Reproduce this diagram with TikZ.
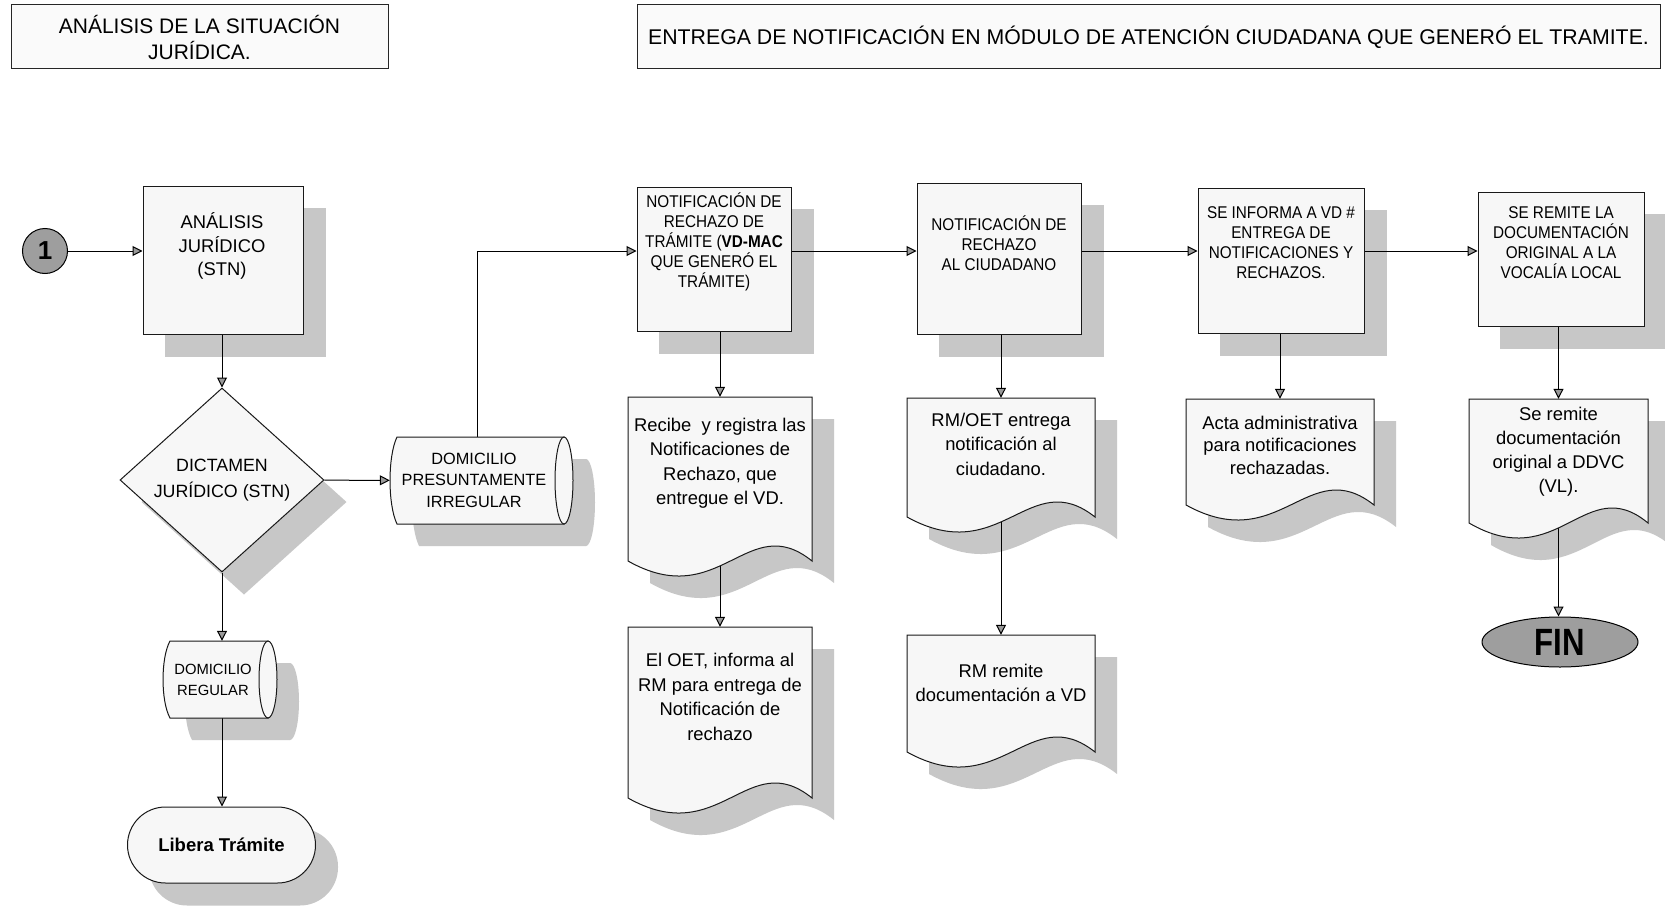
\documentclass[tikz,border=0pt]{standalone}
\usepackage{fontspec}
\setmainfont{Liberation Sans}
\newfontfamily\narrowsans[FakeStretch=0.82]{Liberation Sans}
\newfontfamily\stepsans[FakeStretch=0.9]{Liberation Sans}
\usetikzlibrary{arrows.meta,shapes.geometric,calc}
\pgfdeclarelayer{shadowlayer}
\pgfdeclarelayer{connlayer}
\pgfsetlayers{shadowlayer,connlayer,main}

% document symbol: flat top, straight sides, wavy bottom
\newcommand{\docoutline}[5]{% style, left, top, right, side bottom
  \pgfmathsetmacro{\docw}{#4-#2}%
  \pgfmathsetmacro{\docca}{#4-0.35*\docw}%
  \pgfmathsetmacro{\doccb}{#4-0.5*\docw}%
  \pgfmathsetmacro{\docya}{#5-52}%
  \pgfmathsetmacro{\docyb}{#5+52}%
  \path[#1] (#2,#3) -- (#4,#3) -- (#4,#5) .. controls (\docca,\docya) and (\doccb,\docyb) .. (#2,#5) -- cycle;%
}
% horizontal drum: curved left end, full ellipse on the right end
\newcommand{\cyloutline}[5]{% style, left, top, right, bottom
  \pgfmathsetmacro{\cylmid}{(#3+#5)/2}%
  \pgfmathsetmacro{\cylry}{(#5-#3)/2}%
  \pgfmathsetmacro{\cylq}{(#5-#3)*0.22}%
  \path[#1] (#4-9,#3) -- (#2+7,#3) .. controls (#2-2.3,#3+\cylq) and (#2-2.3,#5-\cylq) .. (#2+7,#5) -- (#4-9,#5) -- cycle;%
  \path[#1] (#4-9,\cylmid) ellipse [x radius=9, y radius=\cylry];%
}

\tikzset{
  edge/.style={draw=black!90, line width=1pt, fill=black!3},
  shade/.style={fill=black!22, draw=none},
  pbox/.style={edge, rectangle, inner sep=0pt},
  hidden/.style={rectangle, inner sep=0pt, draw=none},
  titlebox/.style={rectangle, draw=black!85, line width=1pt, fill=black!2, inner sep=0pt, align=center,
                   font=\fontsize{21}{26}\selectfont},
  steptext/.style={align=center, inner sep=0pt, font=\stepsans\fontsize{17}{20}\selectfont},
  docfont/.style={align=center, inner sep=0pt, font=\fontsize{18.4}{24.5}\selectfont},
  flow/.style={draw=black, line width=1pt, -{Triangle[length=10pt,width=10pt,fill=black!40]}},
}

\begin{document}
\begin{tikzpicture}[x=1pt,y=-1pt]
\useasboundingbox (0,0) rectangle (1665,907);

% headings
\node[titlebox, minimum width=377pt, minimum height=64pt] (t1) at (199.5,37)
  {ANÁLISIS DE LA SITUACIÓN\\JURÍDICA.};
\node[titlebox, minimum width=1023pt, minimum height=64pt, font=\fontsize{21.3}{26}\selectfont] (t2) at (1148.5,37)
  {ENTREGA DE NOTIFICACIÓN EN MÓDULO DE ATENCIÓN CIUDADANA QUE GENERÓ EL TRAMITE.};

% connector 1
\node[circle, draw=black, line width=1pt, fill=black!38, minimum size=45pt, inner sep=0pt,
      font=\bfseries\fontsize{26}{26}\selectfont] (c0) at (45,251) {1};

% left column
\node[pbox, minimum width=160pt, minimum height=148pt] (b1) at (223,260) {};
\node[align=center, inner sep=0pt, font=\fontsize{18.4}{23.5}\selectfont] (b1t) at (222,246)
  {ANÁLISIS\\JURÍDICO\\(STN)};
\node[diamond, edge, minimum width=204pt, minimum height=184pt, inner sep=0pt, align=center,
      font=\fontsize{17.8}{26}\selectfont] (dm) at (222,480) {DICTAMEN\\JURÍDICO (STN)};

\cyloutline{edge}{390}{437}{573}{524}
\node[hidden, minimum width=183pt, minimum height=87pt] (c1) at (481.5,480.5) {};
\node[align=center, inner sep=0pt, font=\fontsize{16.3}{21.5}\selectfont] (c1t) at (474,480)
  {DOMICILIO\\PRESUNTAMENTE\\IRREGULAR};

\cyloutline{edge}{163}{641}{277}{718}
\node[hidden, minimum width=114pt, minimum height=77pt] (c2) at (220,679.5) {};
\node[align=center, inner sep=0pt, font=\fontsize{14.8}{21}\selectfont] (c2t) at (213,680)
  {DOMICILIO\\REGULAR};

\node[pbox, rounded corners=38pt, minimum width=188pt, minimum height=76pt,
      font=\bfseries\fontsize{18.5}{22}\selectfont] (tm) at (221.5,845) {Libera Trámite};

% top row of steps
\node[pbox, minimum width=154pt, minimum height=144pt] (b2) at (714,259) {};
\node[steptext] (b2t) at (714,242)
  {NOTIFICACIÓN DE\\RECHAZO DE\\TRÁMITE (\textbf{VD-MAC}\\QUE GENERÓ EL\\TRÁMITE)};
\node[pbox, minimum width=164pt, minimum height=151pt] (b3) at (999,258.5) {};
\node[steptext] (b3t) at (999,243) {NOTIFICACIÓN DE\\RECHAZO\\AL CIUDADANO};
\node[pbox, minimum width=166pt, minimum height=145pt] (b4) at (1281,260.5) {};
\node[steptext] (b4t) at (1281,243) {SE INFORMA A VD \#\\ENTREGA DE\\NOTIFICACIONES Y\\RECHAZOS.};
\node[pbox, minimum width=166pt, minimum height=134pt] (b5) at (1561,259) {};
\node[steptext] (b5t) at (1561,243) {SE REMITE LA\\DOCUMENTACIÓN\\ORIGINAL A LA\\VOCALÍA LOCAL};

% documents
\docoutline{edge}{628}{397}{812}{561}
\node[hidden, minimum width=184pt, minimum height=164pt] (d1) at (720,479) {};
\node[docfont] (d1t) at (720,463) {Recibe~ y registra las\\Notificaciones de\\Rechazo, que\\entregue el VD.};

\docoutline{edge}{628}{627}{812}{798}
\node[hidden, minimum width=184pt, minimum height=171pt] (d2) at (720,712.5) {};
\node[docfont] (d2t) at (720,697) {El OET, informa al\\RM para entrega de\\Notificación de\\rechazo};

\docoutline{edge}{907}{398}{1095}{517}
\node[hidden, minimum width=188pt, minimum height=119pt] (d3) at (1001,457.5) {};
\node[docfont] (d3t) at (1001,444) {RM/OET entrega\\notificación al\\ciudadano.};

\docoutline{edge}{907}{635}{1095}{752}
\node[hidden, minimum width=188pt, minimum height=117pt] (d4) at (1001,693.5) {};
\node[docfont] (d4t) at (1001,683) {RM remite\\documentación a VD};

\docoutline{edge}{1186}{399}{1374}{505}
\node[hidden, minimum width=188pt, minimum height=106pt] (d5) at (1280,452) {};
\node[docfont, font=\fontsize{18.4}{22.5}\selectfont] (d5t) at (1280,445)
  {Acta administrativa\\para notificaciones\\rechazadas.};

\docoutline{edge}{1469}{399}{1648}{523}
\node[hidden, minimum width=179pt, minimum height=124pt] (d6) at (1558.5,461) {};
\node[docfont, font=\fontsize{18.4}{24}\selectfont] (d6t) at (1558.5,452)
  {Se remite\\documentación\\original a DDVC\\(VL).};

\node[ellipse, draw=black, line width=1pt, fill=black!38, minimum width=156pt, minimum height=50pt,
      inner sep=0pt, font=\narrowsans\bfseries\fontsize{38}{38}\selectfont] (fn) at (1560,642) {FIN};

% drop shadows
\begin{pgfonlayer}{shadowlayer}
  \fill[white] (0,0) rectangle (1665,907);
  \foreach \n in {b1,b2,b3,b4,b5}{
    \fill[shade] ([shift={(22,22)}]\n.north west) rectangle ([shift={(22,22)}]\n.south east);
  }
  \fill[shade] ([shift={(22,22)}]dm.north) -- ([shift={(22,22)}]dm.east)
     -- ([shift={(22,22)}]dm.south) -- ([shift={(22,22)}]dm.west) -- cycle;
  \cyloutline{shade, shift={(22,22)}}{390}{437}{573}{524}
  \cyloutline{shade, shift={(22,22)}}{163}{641}{277}{718}
  \fill[shade, rounded corners=38pt] ([shift={(22,22)}]tm.north west) rectangle ([shift={(22,22)}]tm.south east);
  \docoutline{shade, shift={(22,22)}}{628}{397}{812}{561}
  \docoutline{shade, shift={(22,22)}}{628}{627}{812}{798}
  \docoutline{shade, shift={(22,22)}}{907}{398}{1095}{517}
  \docoutline{shade, shift={(22,22)}}{907}{635}{1095}{752}
  \docoutline{shade, shift={(22,22)}}{1186}{399}{1374}{505}
  \docoutline{shade, shift={(22,22)}}{1469}{399}{1648}{523}
\end{pgfonlayer}

% connectors
\begin{pgfonlayer}{connlayer}
  \draw[flow] (c0) -- (c0 -| b1.west);
  \draw[flow] (dm.north |- b1.south) -- (dm.north);
  \draw[flow] (dm) -- (c1);
  \draw[flow] (dm.south) -- (dm.south |- c2.north);
  \draw[flow] (dm.south |- c2.south) -- (dm.south |- tm.north);
  \draw[flow] ([xshift=-4pt]c1.north) |- (b2.west |- c0);
  \draw[flow] (b2.east |- c0) -- (b3.west |- c0);
  \draw[flow] (b3.east |- c0) -- (b4.west |- c0);
  \draw[flow] (b4.east |- c0) -- (b5.west |- c0);
  \draw[flow] (d1.north |- b2.south) -- (d1.north);
  \draw[flow] (d1.south) -- (d2.north);
  \draw[flow] (d3.north |- b3.south) -- (d3.north);
  \draw[flow] (d3.south) -- (d4.north);
  \draw[flow] (d5.north |- b4.south) -- (d5.north);
  \draw[flow] (d6.north |- b5.south) -- (d6.north);
  \draw[flow] (d6.south) -- (d6.south |- fn.north);
\end{pgfonlayer}
\end{tikzpicture}
\end{document}
